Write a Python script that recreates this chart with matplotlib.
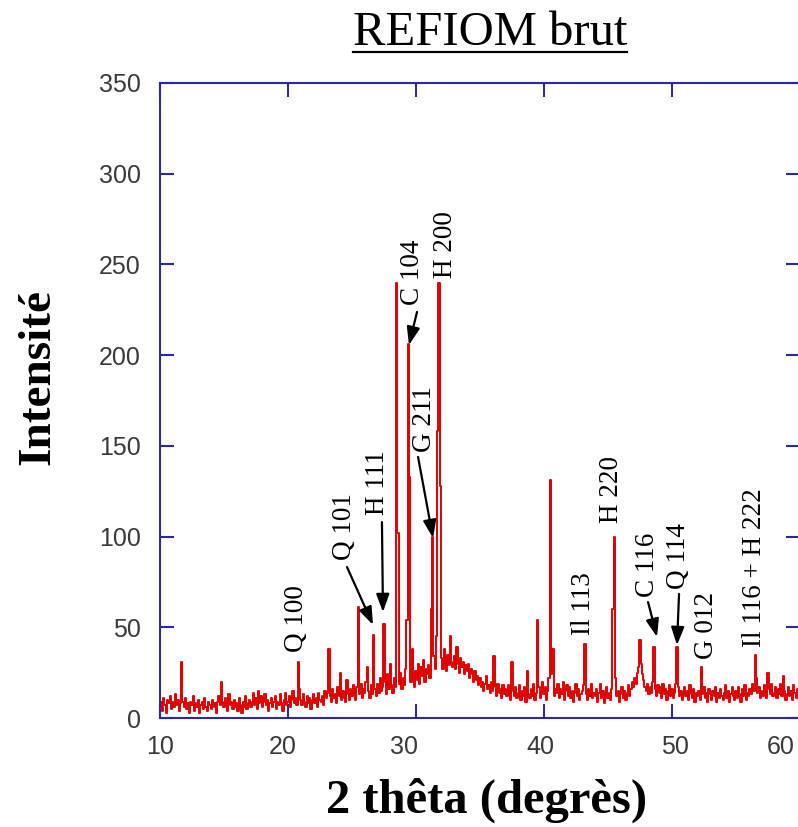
import numpy as np
import matplotlib
matplotlib.use("Agg")
import matplotlib.pyplot as plt
from matplotlib.lines import Line2D
from matplotlib.transforms import ScaledTranslation

# ---------------- data ----------------
two_theta_start = 10.0
two_theta_step = 0.1

# intensity, one row per degree (X.0 ... X.9)
intensity = [
    6, 9, 4, 11, 7, 3, 10, 8, 12, 5,          # 10
    9, 6, 13, 7, 10, 4, 8, 31, 9, 6,          # 11
    11, 5, 8, 3, 9, 7, 12, 4, 8, 6,           # 12
    10, 3, 7, 9, 5, 11, 6, 4, 9, 7,           # 13
    5, 10, 6, 8, 3, 9, 12, 7, 20, 9,          # 14
    6, 11, 8, 4, 13, 7, 9, 5, 10, 6,          # 15
    8, 4, 11, 7, 3, 9, 6, 12, 5, 8,           # 16
    10, 6, 9, 14, 7, 11, 5, 15, 8, 12,        # 17
    6, 9, 13, 7, 10, 4, 8, 11, 6, 9,          # 18
    12, 5, 9, 7, 13, 8, 4, 10, 14, 7,         # 19
    9, 12, 6, 10, 15, 8, 11, 7, 31, 16,       # 20
    10, 7, 13, 9, 6, 12, 8, 11, 5, 10,        # 21
    13, 8, 11, 6, 14, 10, 9, 12, 7, 15,       # 22
    11, 14, 38, 12, 9, 16, 11, 13, 8, 17,     # 23
    12, 25, 10, 15, 11, 9, 21, 13, 10, 16,    # 24
    12, 18, 14, 10, 17, 61, 13, 19, 11, 16,   # 25
    14, 20, 28, 15, 11, 18, 13, 46, 16, 12,   # 26
    19, 14, 22, 15, 17, 52, 20, 13, 24, 16,   # 27
    30, 18, 14, 22, 17, 240, 102, 19, 25, 16, # 28
    22, 18, 27, 54, 206, 133, 20, 38, 24, 17, # 29
    26, 21, 30, 19, 28, 23, 32, 20, 27, 24,   # 30
    29, 22, 60, 100, 34, 27, 45, 158, 240, 128,  # 31
    33, 27, 38, 30, 26, 35, 29, 45, 31, 28,   # 32
    34, 27, 39, 30, 25, 33, 28, 31, 24, 29,   # 33
    26, 30, 22, 27, 24, 20, 26, 21, 23, 18,   # 34
    22, 17, 20, 15, 19, 23, 16, 18, 14, 20,   # 35
    15, 34, 17, 12, 19, 14, 16, 11, 18, 13,   # 36
    16, 12, 18, 14, 10, 31, 15, 12, 17, 11,   # 37
    14, 18, 10, 15, 12, 17, 9, 26, 13, 11,    # 38
    16, 12, 19, 10, 14, 54, 17, 11, 15, 20,   # 39
    13, 17, 10, 15, 22, 131, 24, 38, 12, 16,  # 40
    14, 19, 11, 16, 13, 20, 10, 15, 18, 12,   # 41
    17, 11, 15, 9, 14, 19, 12, 16, 10, 13,    # 42
    15, 18, 41, 13, 10, 16, 12, 19, 11, 14,   # 43
    12, 16, 9, 14, 19, 11, 15, 8, 13, 17,     # 44
    11, 14, 10, 16, 60, 100, 22, 12, 15, 9,   # 45
    13, 17, 11, 15, 10, 14, 18, 12, 16, 20,   # 46
    17, 22, 19, 25, 28, 43, 30, 24, 21, 17,   # 47
    15, 19, 13, 17, 14, 20, 39, 16, 12, 18,   # 48
    14, 17, 11, 19, 13, 16, 10, 15, 18, 12,   # 49
    16, 11, 14, 19, 39, 17, 12, 15, 10, 14,   # 50
    17, 12, 15, 10, 18, 13, 11, 16, 9, 14,    # 51
    12, 15, 10, 28, 13, 17, 11, 14, 9, 16,    # 52
    13, 10, 15, 12, 17, 9, 14, 11, 16, 12,    # 53
    10, 14, 18, 11, 15, 9, 13, 17, 12, 10,    # 54
    15, 11, 17, 13, 9, 16, 12, 18, 10, 14,    # 55
    12, 16, 13, 19, 15, 35, 22, 14, 17, 11,   # 56
    15, 12, 18, 14, 11, 25, 16, 13, 19, 12,   # 57
    14, 17, 11, 16, 13, 19, 12, 23, 15, 10,   # 58
    13, 17, 12, 15, 10, 18, 14, 11, 16, 13,   # 59
    15, 11, 14,                               # 60
]

x_ticks = [10, 20, 30, 40, 50, 60]
y_ticks = [0, 50, 100, 150, 200, 250, 300, 350]

# peak labels: (text, text_x, text_bottom_y)
peak_labels = ["Q 100", "Q 101", "H 111", "C 104", "H 200", "G 211",
               "Il 113", "H 220", "C 116", "Q 114", "G 012", "Il 116 + H 222"]
label_x = [20.63, 24.45, 27.03, 29.69, 32.27, 30.63,
           43.05, 45.31, 48.05, 50.47, 52.73, 56.48]
label_y = [36.4, 87.1, 112.0, 227.7, 242.6, 146.6,
           45.7, 107.5, 66.7, 71.1, 32.5, 39.1]

# arrows: tail (x, y) -> head (x, y)
arrow_tail_x = [24.61, 27.34, 30.08, 30.16, 48.13, 50.55]
arrow_tail_y = [83.2, 108.0, 223.8, 143.9, 63.9, 68.4]
arrow_head_x = [26.64, 27.42, 29.45, 31.33, 48.83, 50.39]
arrow_head_y = [51.3, 58.4, 205.6, 99.2, 44.7, 40.2]

# ---------------- figure ----------------
W, H = 798, 827
fig = plt.figure(figsize=(W / 100, H / 100), dpi=100)
ax = fig.add_axes([160 / W, 1 - 718 / H, 640 / W, (718 - 83) / H])

x = two_theta_start + two_theta_step * np.arange(len(intensity))
ax.plot(x, intensity, color="#e00000", lw=1.4, drawstyle="steps-mid")

ax.set_xlim(10, 60)
ax.set_ylim(0, 350)
ax.set_xticks(x_ticks)
ax.set_yticks(y_ticks)

spine_col = "#2a2a9a"
for s in ax.spines.values():
    s.set_color(spine_col)
    s.set_linewidth(1.5)
ax.tick_params(direction="in", length=10, width=1.5, color=spine_col,
               top=True, right=True, labelsize=18, labelcolor="#3a3a3a")
ax.tick_params(axis="y", pad=14)
ax.tick_params(axis="x", pad=12)
tick_font = ["Liberation Sans", "DejaVu Sans"]
for lab in ax.get_xticklabels() + ax.get_yticklabels():
    lab.set_fontfamily(tick_font)
# the scanned original has its x labels slightly shifted from the ticks
x_label_shift_px = [0, -5, -12, -4, 3, -19]
for lab, dx in zip(ax.get_xticklabels(), x_label_shift_px):
    lab.set_transform(lab.get_transform() + ScaledTranslation(dx / 100, 0, fig.dpi_scale_trans))

serif = ["Liberation Serif", "DejaVu Serif"]

for t, lx, ly in zip(peak_labels, label_x, label_y):
    ax.text(lx, ly, t, rotation=90, ha="center", va="bottom",
            fontsize=19.5, family=serif, color="black")

for tx, ty, hx, hy in zip(arrow_tail_x, arrow_tail_y, arrow_head_x, arrow_head_y):
    ax.annotate("", xy=(hx, hy), xytext=(tx, ty),
                arrowprops=dict(arrowstyle="-|>,head_length=0.6,head_width=0.22",
                                color="black", lw=1.6, shrinkA=0, shrinkB=0,
                                mutation_scale=18))

title = fig.text(490 / W, 1 - 45 / H, "REFIOM brut", ha="center", va="baseline",
                 fontsize=35, family=serif, color="black")
fig.text(38 / W, 1 - 377 / H, "Intensité", rotation=90, ha="center", va="center",
         fontsize=34, fontweight="bold", family=serif, color="black")
fig.text(487 / W, 1 - 800 / H, "2 thêta (degrès)", ha="center", va="center",
         fontsize=35, fontweight="bold", family=serif, color="black")

# underline title
fig.canvas.draw()
bb = title.get_window_extent()
uy = 1 - 52 / H
fig.add_artist(Line2D([bb.x0 / W, bb.x1 / W], [uy, uy], color="black", lw=1.6,
                      transform=fig.transFigure))

fig.savefig("out.png", dpi=100)
